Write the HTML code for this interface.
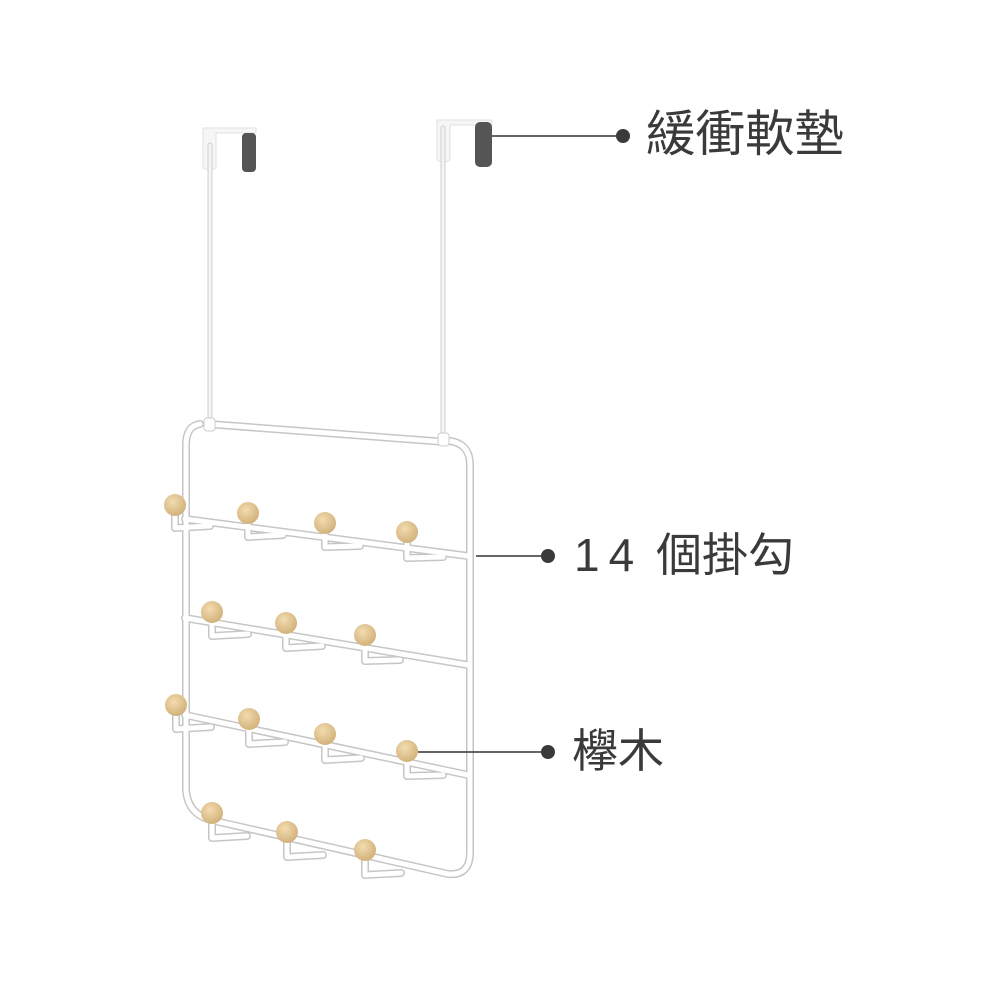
<!DOCTYPE html>
<html><head><meta charset="utf-8"><style>
html,body{margin:0;padding:0;background:#fff;}
.t{position:absolute;font-family:"Liberation Sans","Noto Sans CJK TC",sans-serif;color:#3a3a3a;font-size:46px;line-height:1;white-space:nowrap;}
</style></head><body>
<div style="position:relative;width:1000px;height:1000px;overflow:hidden;">
<svg width="1000" height="1000" style="position:absolute;left:0;top:0">
<defs>
<radialGradient id="w" cx="40%" cy="35%" r="65%"><stop offset="0" stop-color="#f3dcb0"/><stop offset="1" stop-color="#d2b27c"/></radialGradient>
</defs>
<path d="M203 128 L256 128 L256 133 L216 133 L216 168 Q210 172 203 168 Z" fill="#f6f6f6" stroke="#e2e2e2" stroke-width="1"/>
<rect x="242" y="133" width="14" height="39" rx="4" fill="#555"/>
<path d="M437 120 L492 120 L492 125 L450 125 L450 160 Q444 164 437 160 Z" fill="#f6f6f6" stroke="#e2e2e2" stroke-width="1"/>
<rect x="475" y="122" width="17" height="45" rx="5" fill="#555"/>
<g fill="none" stroke-linecap="round" stroke-linejoin="round">
<g stroke="#cfcfcf" stroke-width="5">
<line x1="210" y1="145" x2="210" y2="425"/><line x1="443" y1="128" x2="443" y2="440"/>
</g>
<g stroke="#f4f4f4" stroke-width="3">
<line x1="210" y1="145" x2="210" y2="425"/><line x1="443" y1="128" x2="443" y2="440"/>
</g>
<g stroke="#c6c6c6" stroke-width="8">
<path d="M200 424 Q186 426 186 445 L186 790 Q188 816 215 821 L448 874 Q470 876 470 852 L470 465 Q470 444 450 441"/>
<line x1="208" y1="424" x2="446" y2="442"/>
<line x1="185" y1="519" x2="468" y2="556"/>
<line x1="185" y1="618" x2="468" y2="665"/>
<line x1="185" y1="715" x2="468" y2="775"/>
<path d="M175 512 L175 528 L210 526 M248 520 L248 537 L283 535 M325 530 L325 547 L360 546 M407 539 L407 558 L443 557"/>
<path d="M212 619 L212 636 L248 634 M286 630 L286 648 L322 646 M365 642 L365 661 L400 660"/>
<path d="M176 712 L176 729 L211 727 M249 726 L249 744 L285 742 M325 742 L325 760 L361 758 M407 758 L407 776 L443 775"/>
<path d="M212 820 L212 838 L247 836 M287 839 L287 857 L323 855 M365 857 L365 875 L401 873"/>
</g>
<g stroke="#ffffff" stroke-width="5">
<path d="M200 424 Q186 426 186 445 L186 790 Q188 816 215 821 L448 874 Q470 876 470 852 L470 465 Q470 444 450 441"/>
<line x1="208" y1="424" x2="446" y2="442"/>
<line x1="185" y1="519" x2="468" y2="556"/>
<line x1="185" y1="618" x2="468" y2="665"/>
<line x1="185" y1="715" x2="468" y2="775"/>
<path d="M175 512 L175 528 L210 526 M248 520 L248 537 L283 535 M325 530 L325 547 L360 546 M407 539 L407 558 L443 557"/>
<path d="M212 619 L212 636 L248 634 M286 630 L286 648 L322 646 M365 642 L365 661 L400 660"/>
<path d="M176 712 L176 729 L211 727 M249 726 L249 744 L285 742 M325 742 L325 760 L361 758 M407 758 L407 776 L443 775"/>
<path d="M212 820 L212 838 L247 836 M287 839 L287 857 L323 855 M365 857 L365 875 L401 873"/>
</g>
<rect x="204" y="418" width="11" height="13" rx="3" fill="#fff" stroke="#ccc" stroke-width="1"/>
<rect x="438" y="433" width="11" height="13" rx="3" fill="#fff" stroke="#ccc" stroke-width="1"/>
</g>
<g fill="url(#w)">
<circle cx="175" cy="505" r="11"/><circle cx="248" cy="513" r="11"/><circle cx="325" cy="523" r="11"/><circle cx="407" cy="532" r="11"/>
<circle cx="212" cy="612" r="11"/><circle cx="286" cy="623" r="11"/><circle cx="365" cy="635" r="11"/>
<circle cx="176" cy="705" r="11"/><circle cx="249" cy="719" r="11"/><circle cx="325" cy="734" r="11"/><circle cx="407" cy="751" r="11"/>
<circle cx="212" cy="813" r="11"/><circle cx="287" cy="832" r="11"/><circle cx="365" cy="850" r="11"/>
</g>
<g stroke="#333" stroke-width="1.5">
<line x1="492" y1="136" x2="622" y2="136"/>
<line x1="476" y1="556" x2="548" y2="556"/>
<line x1="418" y1="752" x2="548" y2="752"/>
</g>
<g fill="#3a3a3a">
<circle cx="623" cy="136" r="7"/><circle cx="548" cy="556" r="7"/><circle cx="548" cy="752" r="7"/>
</g>
</svg>
<div class="t" style="left:646px;top:110px;font-size:49.5px;">緩衝軟墊</div>
<div class="t" style="left:574px;top:532px;"><span style="letter-spacing:9px">14</span> 個掛勾</div>
<div class="t" style="left:572px;top:728px;">欅木</div>
</div>
</body></html>
